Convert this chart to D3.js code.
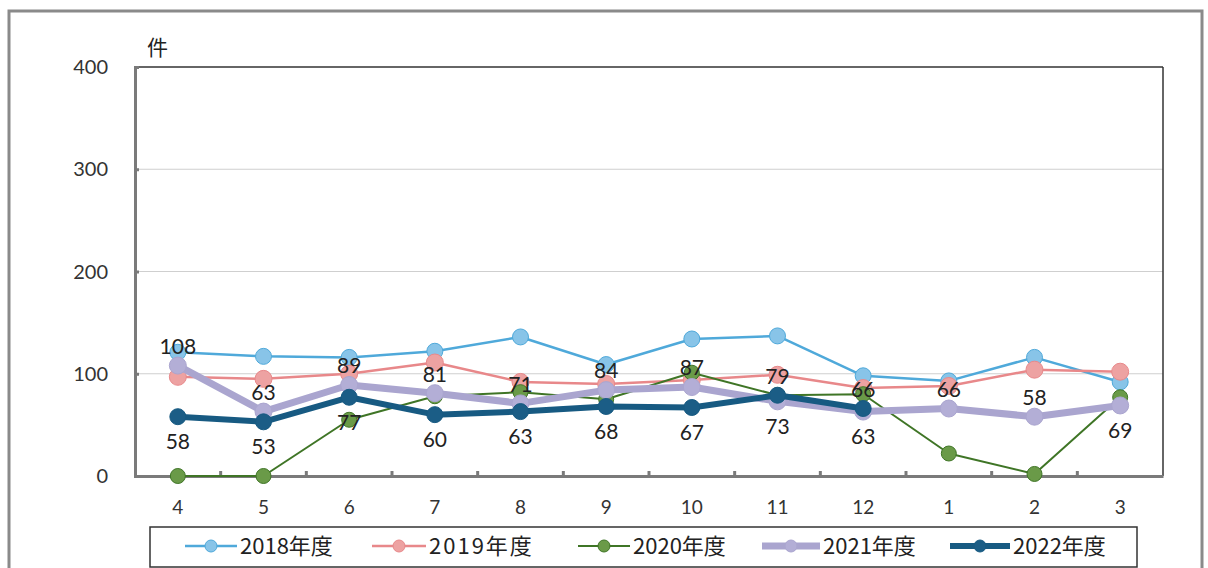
<!DOCTYPE html>
<html><head><meta charset="utf-8">
<script src="https://cdn.jsdelivr.net/npm/d3@7"></script>
<style>
html,body{margin:0;padding:0;background:#fff;}
svg{display:block;}
</style></head>
<body>
<svg id="c" width="1208" height="568"></svg>
<script>
const months = ["4","5","6","7","8","9","10","11","12","1","2","3"];
const yTicks = [0,100,200,300,400];
const s2018 = [121,117,116,122,136,109,134,137,98,93,116,92];
const s2019 = [97,95,100,111,92,90,94,99,86,88,104,102];
const s2020 = [0,0,55,78,82,75,101,79,80,22,2,77];
const s2021 = [108,63,89,81,71,84,87,73,63,66,58,69];
const s2022 = [58,53,77,60,63,68,67,79,66,null,null,null];
const seriesNames = ["2018年度","2019年度","2020年度","2021年度","2022年度"];
const label2021Side = ["a","a","a","a","a","a","a","b","b","a","a","b"];
const label2022Side = ["b","b","b","b","b","b","b","a","a","b","b","b"];

const styles = [
  {line:"#4fa9da", fill:"#88c4e8", w:2.5, r:8},
  {line:"#e8888a", fill:"#eda2a2", w:2.5, r:8.5},
  {line:"#3f7526", fill:"#6a9a48", w:2,   r:7.5},
  {line:"#aaa5cf", fill:"#b3aed6", w:7,   r:8.5},
  {line:"#175a82", fill:"#1b5d86", w:6,   r:8}
];
const allSeries = [s2018,s2019,s2020,s2021,s2022];

const svg = d3.select("#c");
const L=135, R=1163, T=67, B=476;
const x = d3.scaleBand().domain(months).range([L,R]);
const cx = m => x(m)+x.bandwidth()/2;
const y = d3.scaleLinear().domain([0,400]).range([B,T]);

// outer frame
svg.append("rect").attr("x",9).attr("y",11).attr("width",1193).attr("height",570)
  .attr("fill","none").attr("stroke","#8a8a8a").attr("stroke-width",3);

// gridlines
svg.append("g").selectAll("line").data(yTicks.filter(t=>t>0&&t<400)).join("line")
  .attr("x1",L).attr("x2",R).attr("y1",d=>y(d)).attr("y2",d=>y(d))
  .attr("stroke","#cfcfcf").attr("stroke-width",1);

// plot border top/right
svg.append("line").attr("x1",L).attr("x2",R).attr("y1",T).attr("y2",T).attr("stroke","#333").attr("stroke-width",1.5);
svg.append("line").attr("x1",R).attr("x2",R).attr("y1",T).attr("y2",B).attr("stroke","#333").attr("stroke-width",1.5);

// y axis
const yAx = svg.append("g").attr("transform",`translate(${L},0)`)
  .call(d3.axisRight(y).tickValues(yTicks).tickSize(4).tickFormat(""));
yAx.select(".domain").attr("stroke","#7a7a7a").attr("stroke-width",3);
yAx.selectAll(".tick line").attr("stroke","#7a7a7a").attr("stroke-width",3);
svg.append("g").selectAll("text").data(yTicks).join("text")
  .attr("x",108).attr("y",d=>y(d)).attr("dy","0.35em").attr("text-anchor","end")
  .attr("font-family","Lato, 'Open Sans', sans-serif").attr("font-size",20).attr("fill","#333")
  .text(d=>d);

// x axis
const xAx = svg.append("g").attr("transform",`translate(0,${B})`)
  .call(d3.axisTop(x).tickSize(0).tickFormat(""));
xAx.select(".domain").attr("stroke","#7a7a7a").attr("stroke-width",3);
svg.append("g").selectAll("line").data(months.slice(1)).join("line")
  .attr("x1",d=>x(d)).attr("x2",d=>x(d)).attr("y1",B).attr("y2",B-5)
  .attr("stroke","#7a7a7a").attr("stroke-width",3);
svg.append("g").selectAll("text").data(months).join("text")
  .attr("x",d=>cx(d)).attr("y",507).attr("dy","0.35em").attr("text-anchor","middle")
  .attr("font-family","Lato, 'Open Sans', sans-serif").attr("font-size",19).attr("fill","#333")
  .text(d=>d);

// unit
svg.append("text").attr("x",147).attr("y",55).attr("font-family","'Noto Sans CJK JP', sans-serif")
  .attr("font-size",21).attr("fill","#222").text("件");

// series
allSeries.forEach((s,k)=>{
  const st = styles[k];
  const pts = months.map((m,i)=>({m, v:s[i]})).filter(d=>d.v!==null);
  const line = d3.line().x(d=>cx(d.m)).y(d=>y(d.v));
  svg.append("path").datum(pts).attr("d",line).attr("fill","none")
    .attr("stroke",st.line).attr("stroke-width",st.w).attr("stroke-linejoin","round");
  svg.append("g").selectAll("circle").data(pts).join("circle")
    .attr("cx",d=>cx(d.m)).attr("cy",d=>y(d.v)).attr("r",st.r)
    .attr("fill",st.fill).attr("stroke",st.line).attr("stroke-width",1);
});

// data labels
const lab = svg.append("g").attr("font-family","Lato, 'Open Sans', sans-serif")
  .attr("font-size",21).attr("fill","#222").attr("text-anchor","middle");
function addLabels(s, sides){
  months.forEach((m,i)=>{
    if(s[i]===null) return;
    const off = sides[i]==="a" ? -19 : 25;
    lab.append("text").attr("x",cx(m)).attr("y",y(s[i])+off).attr("dy","0.35em").text(s[i]);
  });
}
addLabels(s2021, label2021Side);
addLabels(s2022, label2022Side);

// legend
svg.append("rect").attr("x",150).attr("y",527).attr("width",987).attr("height",40)
  .attr("fill","#fff").attr("stroke","#333").attr("stroke-width",1.5);
const legX = [185, 372, 578, 762, 950];
const legLen = [52, 54, 52, 58, 60];
const lg = svg.append("g");
seriesNames.forEach((n,k)=>{
  const st = styles[k], x0 = legX[k], len = legLen[k], yy = 546;
  lg.append("line").attr("x1",x0).attr("x2",x0+len).attr("y1",yy).attr("y2",yy)
    .attr("stroke",st.line).attr("stroke-width",st.w);
  lg.append("circle").attr("cx",x0+len/2).attr("cy",yy).attr("r",Math.min(st.r,6))
    .attr("fill",st.fill).attr("stroke",st.line).attr("stroke-width",1);
  lg.append("text").attr("x",x0+len+3).attr("y",yy).attr("dy","0.35em")
    .attr("font-family","'Noto Sans CJK JP', sans-serif").attr("font-size",22).attr("fill","#222")
    .attr("letter-spacing", k===1 ? 2 : 0)
    .text(n);
});
</script>
</body></html>
